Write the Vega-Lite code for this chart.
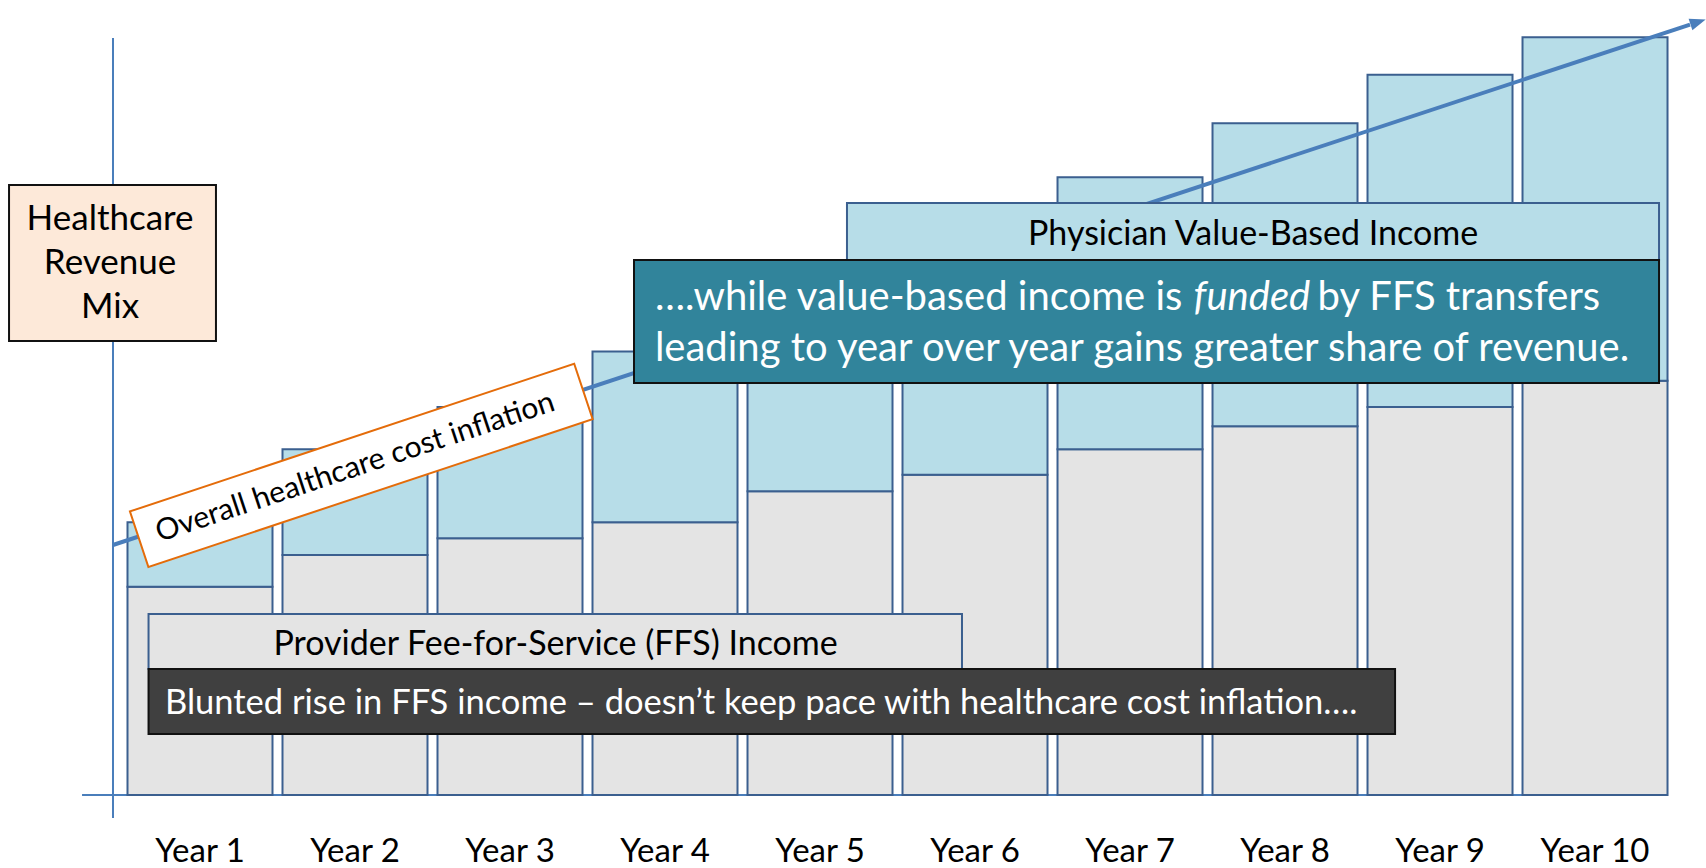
{
  "$schema": "https://vega.github.io/schema/vega-lite/v6.json",
  "width": 1706,
  "height": 868,
  "autosize": {"type": "none"},
  "padding": 0,
  "background": "white",
  "config": {"view": {"stroke": null}},
  "resolve": {"scale": {"fill": "independent", "stroke": "independent"}},
  "datasets": {
    "bars": [
      {"year": 1, "label": "Year 1", "segment": "FFS", "lo": 0, "hi": 26.2},
      {"year": 1, "label": "Year 1", "segment": "VB", "lo": 26.2, "hi": 34.3},
      {"year": 2, "label": "Year 2", "segment": "FFS", "lo": 0, "hi": 30.2},
      {"year": 2, "label": "Year 2", "segment": "VB", "lo": 30.2, "hi": 43.5},
      {"year": 3, "label": "Year 3", "segment": "FFS", "lo": 0, "hi": 32.3},
      {"year": 3, "label": "Year 3", "segment": "VB", "lo": 32.3, "hi": 48.8},
      {"year": 4, "label": "Year 4", "segment": "FFS", "lo": 0, "hi": 34.3},
      {"year": 4, "label": "Year 4", "segment": "VB", "lo": 34.3, "hi": 55.8},
      {"year": 5, "label": "Year 5", "segment": "FFS", "lo": 0, "hi": 38.2},
      {"year": 5, "label": "Year 5", "segment": "VB", "lo": 38.2, "hi": 63.0},
      {"year": 6, "label": "Year 6", "segment": "FFS", "lo": 0, "hi": 40.3},
      {"year": 6, "label": "Year 6", "segment": "VB", "lo": 40.3, "hi": 70.3},
      {"year": 7, "label": "Year 7", "segment": "FFS", "lo": 0, "hi": 43.5},
      {"year": 7, "label": "Year 7", "segment": "VB", "lo": 43.5, "hi": 77.7},
      {"year": 8, "label": "Year 8", "segment": "FFS", "lo": 0, "hi": 46.4},
      {"year": 8, "label": "Year 8", "segment": "VB", "lo": 46.4, "hi": 84.5},
      {"year": 9, "label": "Year 9", "segment": "FFS", "lo": 0, "hi": 48.8},
      {"year": 9, "label": "Year 9", "segment": "VB", "lo": 48.8, "hi": 90.6},
      {"year": 10, "label": "Year 10", "segment": "FFS", "lo": 0, "hi": 52.1},
      {"year": 10, "label": "Year 10", "segment": "VB", "lo": 52.1, "hi": 95.3}
    ]
  },
  "layer": [
    {
      "data": {"values": [
        {"x": 0.4387, "y": -2.89, "x2": 0.4387, "y2": 95.22},
        {"x": 0.239, "y": 0, "x2": 10.47, "y2": 0}
      ]},
      "mark": {"type": "rule", "color": "#4a7ebb", "strokeWidth": 2},
      "encoding": {
        "x": {"field": "x", "type": "quantitative", "scale": {"domain": [-0.2903, 10.716], "nice": false, "zero": false, "padding": 0}, "axis": null},
        "y": {"field": "y", "type": "quantitative", "scale": {"domain": [-9.18, 100], "nice": false, "zero": false, "padding": 0}, "axis": null},
        "x2": {"field": "x2"},
        "y2": {"field": "y2"}
      }
    },
    {
      "data": {"name": "bars"},
      "mark": {"type": "bar", "width": 145, "stroke": "#3b5f8f", "strokeWidth": 2, "opacity": 1},
      "encoding": {
        "x": {"field": "year", "type": "quantitative", "scale": {"domain": [-0.2903, 10.716], "nice": false, "zero": false, "padding": 0}, "axis": null},
        "y": {"field": "lo", "type": "quantitative", "scale": {"domain": [-9.18, 100], "nice": false, "zero": false, "padding": 0}, "axis": null},
        "y2": {"field": "hi"},
        "fill": {"field": "segment", "type": "nominal", "scale": {"domain": ["FFS", "VB"], "range": ["#e4e4e4", "#b7dde8"]}, "legend": null}
      }
    },
    {
      "data": {"values": [{"x": 0.4387, "y": 31.45}, {"x": 10.613, "y": 96.9}]},
      "mark": {"type": "line", "color": "#4a7ebb", "strokeWidth": 4},
      "encoding": {
        "x": {"field": "x", "type": "quantitative", "scale": {"domain": [-0.2903, 10.716], "nice": false, "zero": false, "padding": 0}, "axis": null},
        "y": {"field": "y", "type": "quantitative", "scale": {"domain": [-9.18, 100], "nice": false, "zero": false, "padding": 0}, "axis": null}
      }
    },
    {
      "data": {"values": [{"x": 2.0406, "y": 41.47}]},
      "mark": {"type": "point", "shape": "M-1,-0.125L1,-0.125L1,0.125L-1,0.125Z", "size": 219211, "angle": -18.4, "filled": true, "fill": "#ffffff", "stroke": "#e46c0a", "strokeWidth": 2, "opacity": 1},
      "encoding": {
        "x": {"field": "x", "type": "quantitative", "scale": {"domain": [-0.2903, 10.716], "nice": false, "zero": false, "padding": 0}, "axis": null},
        "y": {"field": "y", "type": "quantitative", "scale": {"domain": [-9.18, 100], "nice": false, "zero": false, "padding": 0}, "axis": null}
      }
    },
    {
      "data": {"values": [{"x": 2.0, "y": 41.2, "text": "Overall healthcare cost inflation"}]},
      "mark": {"type": "text", "angle": -18.4, "font": "Lato", "fontSize": 30, "color": "#000000", "align": "center", "baseline": "middle"},
      "encoding": {
        "x": {"field": "x", "type": "quantitative", "scale": {"domain": [-0.2903, 10.716], "nice": false, "zero": false, "padding": 0}, "axis": null},
        "y": {"field": "y", "type": "quantitative", "scale": {"domain": [-9.18, 100], "nice": false, "zero": false, "padding": 0}, "axis": null},
        "text": {"field": "text"}
      }
    },
    {
      "data": {"values": [
        {"name": "Provider", "x": 0.668, "x2": 5.916, "y": 22.77, "y2": 15.85},
        {"name": "Blunted", "x": 0.668, "x2": 8.71, "y": 15.85, "y2": 7.67},
        {"name": "Physician", "x": 5.174, "x2": 10.413, "y": 74.47, "y2": 67.3},
        {"name": "Funded", "x": 3.8, "x2": 10.413, "y": 67.3, "y2": 51.82},
        {"name": "Mix", "x": -0.232, "x2": 1.103, "y": 76.73, "y2": 57.11}
      ]},
      "mark": {"type": "rect", "strokeWidth": 2, "opacity": 1},
      "encoding": {
        "x": {"field": "x", "type": "quantitative", "scale": {"domain": [-0.2903, 10.716], "nice": false, "zero": false, "padding": 0}, "axis": null},
        "y": {"field": "y", "type": "quantitative", "scale": {"domain": [-9.18, 100], "nice": false, "zero": false, "padding": 0}, "axis": null},
        "x2": {"field": "x2"},
        "y2": {"field": "y2"},
        "fill": {"field": "name", "type": "nominal", "scale": {"domain": ["Provider", "Blunted", "Physician", "Funded", "Mix"], "range": ["#e4e4e4", "#404040", "#b7dde8", "#31849b", "#fde9d9"]}, "legend": null},
        "stroke": {"field": "name", "type": "nominal", "scale": {"domain": ["Provider", "Blunted", "Physician", "Funded", "Mix"], "range": ["#3b5f8f", "#111111", "#3b5f8f", "#111111", "#111111"]}, "legend": null}
      }
    },
    {
      "data": {"values": [
        {"x": 3.294, "y": 17.61, "text": "Provider Fee-for-Service (FFS) Income"},
        {"x": 7.794, "y": 69.2, "text": "Physician Value-Based Income"}
      ]},
      "mark": {"type": "text", "font": "Lato", "fontSize": 34, "color": "#000000", "align": "center", "baseline": "alphabetic"},
      "encoding": {
        "x": {"field": "x", "type": "quantitative", "scale": {"domain": [-0.2903, 10.716], "nice": false, "zero": false, "padding": 0}, "axis": null},
        "y": {"field": "y", "type": "quantitative", "scale": {"domain": [-9.18, 100], "nice": false, "zero": false, "padding": 0}, "axis": null},
        "text": {"field": "text"}
      }
    },
    {
      "data": {"values": [
        {"x": 0.774, "y": 10.25, "text": "Blunted rise in FFS income – doesn’t keep pace with healthcare cost inflation…."}
      ]},
      "mark": {"type": "text", "font": "Lato", "fontSize": 34.5, "color": "#ffffff", "align": "left", "baseline": "alphabetic"},
      "encoding": {
        "x": {"field": "x", "type": "quantitative", "scale": {"domain": [-0.2903, 10.716], "nice": false, "zero": false, "padding": 0}, "axis": null},
        "y": {"field": "y", "type": "quantitative", "scale": {"domain": [-9.18, 100], "nice": false, "zero": false, "padding": 0}, "axis": null},
        "text": {"field": "text"}
      }
    },
    {
      "data": {"values": [
        {"x": 3.935, "y": 61.0, "text": "….while value-based income is"},
        {"x": 8.21, "y": 61.0, "text": "by FFS  transfers"},
        {"x": 3.935, "y": 54.6, "text": "leading to year over year gains greater share of revenue."}
      ]},
      "mark": {"type": "text", "font": "Lato", "fontSize": 40, "color": "#ffffff", "align": "left", "baseline": "alphabetic"},
      "encoding": {
        "x": {"field": "x", "type": "quantitative", "scale": {"domain": [-0.2903, 10.716], "nice": false, "zero": false, "padding": 0}, "axis": null},
        "y": {"field": "y", "type": "quantitative", "scale": {"domain": [-9.18, 100], "nice": false, "zero": false, "padding": 0}, "axis": null},
        "text": {"field": "text"}
      }
    },
    {
      "data": {"values": [{"x": 7.41, "y": 61.0, "text": "funded"}]},
      "mark": {"type": "text", "font": "Lato", "fontSize": 40, "fontStyle": "italic", "color": "#ffffff", "align": "left", "baseline": "alphabetic"},
      "encoding": {
        "x": {"field": "x", "type": "quantitative", "scale": {"domain": [-0.2903, 10.716], "nice": false, "zero": false, "padding": 0}, "axis": null},
        "y": {"field": "y", "type": "quantitative", "scale": {"domain": [-9.18, 100], "nice": false, "zero": false, "padding": 0}, "axis": null},
        "text": {"field": "text"}
      }
    },
    {
      "data": {"values": [{"x": 0.42, "y": 71.07, "text": ["Healthcare", "Revenue", "Mix"]}]},
      "mark": {"type": "text", "font": "Lato", "fontSize": 35, "lineHeight": 44, "color": "#000000", "align": "center", "baseline": "alphabetic"},
      "encoding": {
        "x": {"field": "x", "type": "quantitative", "scale": {"domain": [-0.2903, 10.716], "nice": false, "zero": false, "padding": 0}, "axis": null},
        "y": {"field": "y", "type": "quantitative", "scale": {"domain": [-9.18, 100], "nice": false, "zero": false, "padding": 0}, "axis": null},
        "text": {"field": "text"}
      }
    },
    {
      "data": {"name": "bars"},
      "transform": [{"filter": "datum.segment === 'FFS'"}],
      "mark": {"type": "text", "font": "Lato", "fontSize": 33, "color": "#000000", "align": "center", "baseline": "alphabetic"},
      "encoding": {
        "x": {"field": "year", "type": "quantitative", "scale": {"domain": [-0.2903, 10.716], "nice": false, "zero": false, "padding": 0}, "axis": null},
        "y": {"datum": -8.43, "type": "quantitative", "scale": {"domain": [-9.18, 100], "nice": false, "zero": false, "padding": 0}, "axis": null},
        "text": {"field": "label"}
      }
    },
    {
      "data": {"values": [{"x": 10.665, "y": 97.24}]},
      "mark": {"type": "point", "shape": "M1,0L-1,-0.75L-1,0.75Z", "size": 256, "angle": -18.3, "filled": true, "color": "#4a7ebb", "opacity": 1},
      "encoding": {
        "x": {"field": "x", "type": "quantitative", "scale": {"domain": [-0.2903, 10.716], "nice": false, "zero": false, "padding": 0}, "axis": null},
        "y": {"field": "y", "type": "quantitative", "scale": {"domain": [-9.18, 100], "nice": false, "zero": false, "padding": 0}, "axis": null}
      }
    }
  ]
}
